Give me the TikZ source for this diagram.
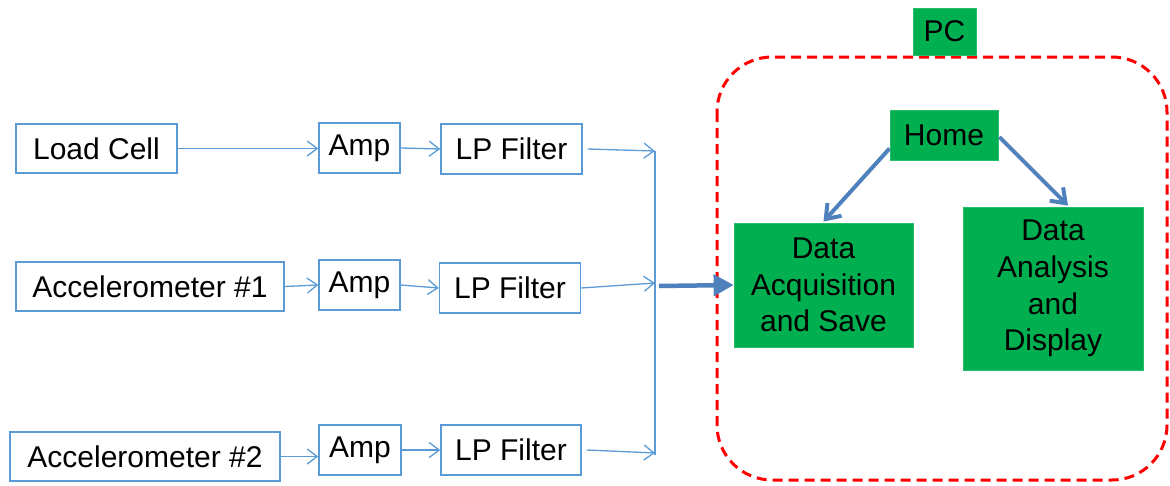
\documentclass[tikz,border=0pt]{standalone}
\usepackage{fontspec}
\setmainfont{Liberation Sans}
\usetikzlibrary{arrows.meta}
\definecolor{boxblue}{RGB}{91,155,213}
\definecolor{linkblue}{RGB}{79,129,189}
\definecolor{pcgreen}{RGB}{0,176,80}
\definecolor{pcred}{RGB}{255,0,0}
\tikzset{
  sigbox/.style={draw=boxblue, line width=1.5pt, fill=white, inner sep=0pt, anchor=center,
    font=\fontsize{30}{36.7}\selectfont},
  gbox/.style={fill=pcgreen, draw=pcgreen!85!white, line width=0.8pt, inner sep=0pt, anchor=center, align=center,
    font=\fontsize{30}{36.7}\selectfont},
  thin link/.style={draw=boxblue, line width=1.3pt, -{Straight Barb[length=10pt,width=15pt,line width=1.3pt]}},
  thick link/.style={draw=linkblue, line width=4pt, -{Straight Barb[length=13pt,width=19pt,line width=4pt]}},
  bus link/.style={draw=linkblue, line width=4.5pt, -{Triangle[length=20pt,width=21pt]}},
  pc frame/.style={draw=pcred, line width=3pt, dash pattern=on 10pt off 6pt, rounded corners=55pt}
}
\begin{document}
\begin{tikzpicture}[x=1pt,y=-1pt]
\useasboundingbox (0,0) rectangle (1170,485);
% PC frame
\draw[pc frame] (717,57) rectangle (1167,480);
% signal chain boxes
\node[sigbox, minimum width=161pt, minimum height=49pt] (lc) at (96.5,148.5) {Load Cell};
\node[sigbox, minimum width=81pt, minimum height=50pt] (amp1) at (359.5,148) {Amp};
\node[sigbox, minimum width=141pt, minimum height=50pt] (lp1) at (511.5,149) {LP Filter};
\node[sigbox, minimum width=268pt, minimum height=49pt] (acc1) at (150,286.5) {Accelerometer \#1};
\node[sigbox, minimum width=81pt, minimum height=50pt] (amp2) at (359.5,285) {Amp};
\node[sigbox, minimum width=141pt, minimum height=50pt] (lp2) at (510,288) {LP Filter};
\node[sigbox, minimum width=270pt, minimum height=49pt] (acc2) at (145,456.5) {Accelerometer \#2};
\node[sigbox, minimum width=82pt, minimum height=50pt] (amp3) at (360,450) {Amp};
\node[sigbox, minimum width=140pt, minimum height=50pt] (lp3) at (511,450) {LP Filter};
% bus coordinates
\coordinate (b1) at (655,151);
\coordinate (b2) at (655,283);
\coordinate (b3) at (655,453);
\coordinate (bus) at (659,286);
% PC boxes
\node[gbox, minimum width=63pt, minimum height=47pt] (pc) at (944.5,31.5) {PC};
\node[gbox, minimum width=108pt, minimum height=50pt] (home) at (944,135) {Home};
\node[gbox, minimum width=179pt, minimum height=124pt] (acq) at (823.5,285) {Data\\Acquisition\\and Save};
\node[gbox, minimum width=180pt, minimum height=163pt] (ana) at (1053,288.5) {Data\\Analysis\\and\\Display};
% thin connectors
\draw[thin link] (lc.east) -- (amp1.west |- lc.east);
\draw[thin link] (amp1.east) -- (lp1.west);
\draw[thin link] (acc1.east) -- (amp2.west);
\draw[thin link] (amp2.east) -- (lp2.west);
\draw[thin link] (acc2.east) -- (amp3.west |- acc2.east);
\draw[thin link] (amp3.east) -- (lp3.west);
\draw[thin link] ([xshift=5pt]lp1.east) -- (b1);
\draw[thin link] (lp2.east) -- (b2);
\draw[thin link] ([xshift=5pt]lp3.east) -- (b3);
\draw[draw=boxblue, line width=1.3pt] (b1) -- ([yshift=-2pt]b3);
% thick connectors
\draw[bus link] (bus) -- (acq.west);
\draw[thick link] ([yshift=12pt]home.south west) -- ([yshift=1pt]acq.north);
\draw[thick link] ([xshift=1pt,yshift=-2pt]home.east) -- ([xshift=15pt,yshift=1pt]ana.north);
\end{tikzpicture}
\end{document}
